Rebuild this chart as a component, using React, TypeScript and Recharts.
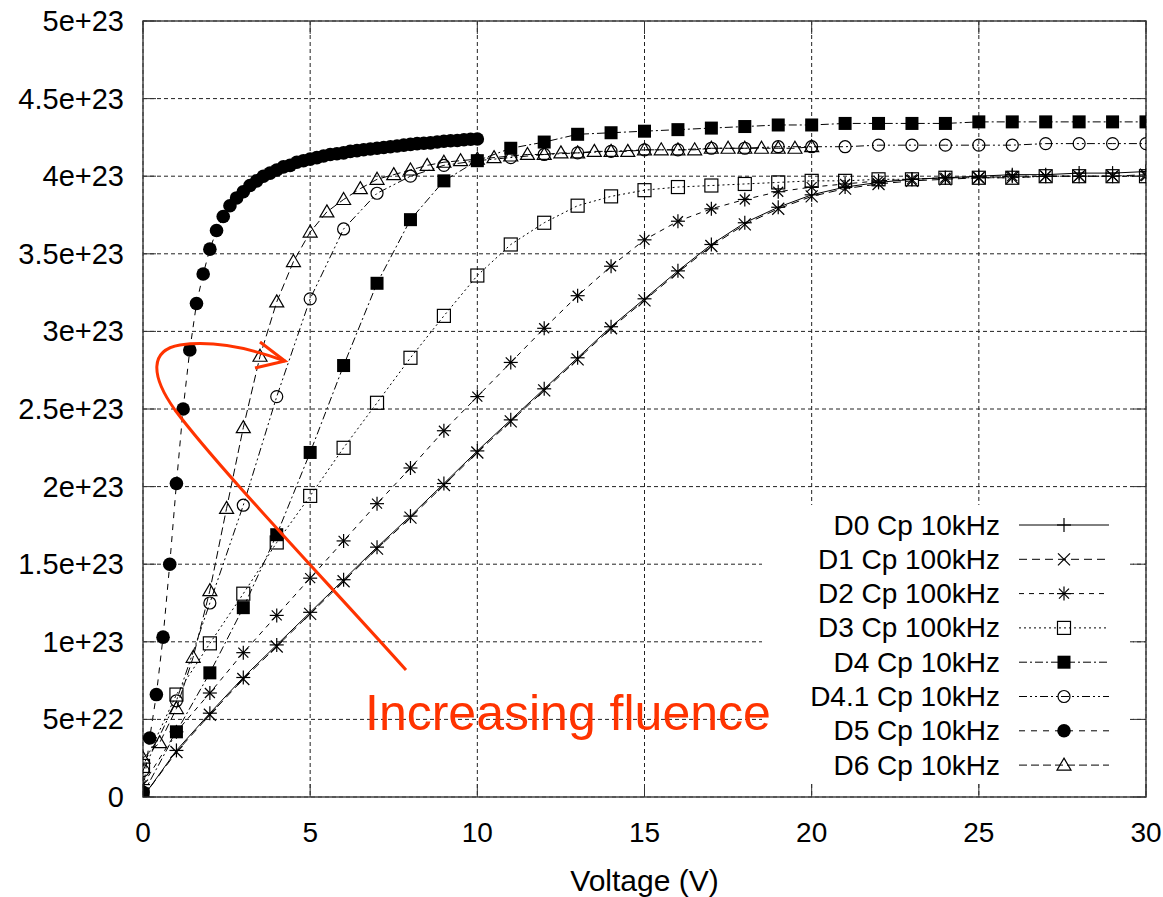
import React from 'react';
import { LineChart, Line, XAxis, YAxis, CartesianGrid, Legend, ReferenceArea, Label } from 'recharts';

// y values are in units of 1e23
const xTicks = [0, 5, 10, 15, 20, 25, 30];
const yTicks = [0, 0.5, 1, 1.5, 2, 2.5, 3, 3.5, 4, 4.5, 5];
const yTickLabels = ['0', '5e+22', '1e+23', '1.5e+23', '2e+23', '2.5e+23', '3e+23', '3.5e+23', '4e+23', '4.5e+23', '5e+23'];

const voltsFull = [0, 1, 2, 3, 4, 5, 6, 7, 8, 9, 10, 11, 12, 13, 14, 15, 16, 17, 18, 19, 20, 21, 22, 23, 24, 25, 26, 27, 28, 29, 30];
const voltsD5 = [0, 0.2, 0.4, 0.6, 0.8, 1, 1.2, 1.4, 1.6, 1.8, 2, 2.2, 2.4, 2.6, 2.8, 3, 3.2, 3.4, 3.6, 3.8, 4, 4.2, 4.4, 4.6, 4.8, 5, 5.2, 5.4, 5.6, 5.8, 6, 6.2, 6.4, 6.6, 6.8, 7, 7.2, 7.4, 7.6, 7.8, 8, 8.2, 8.4, 8.6, 8.8, 9, 9.2, 9.4, 9.6, 9.8, 10];
const voltsD6 = [0, 0.5, 1, 1.5, 2, 2.5, 3, 3.5, 4, 4.5, 5, 5.5, 6, 6.5, 7, 7.5, 8, 8.5, 9, 9.5, 10, 10.5, 11, 11.5, 12, 12.5, 13, 13.5, 14, 14.5, 15, 15.5, 16, 16.5, 17, 17.5, 18, 18.5, 19, 19.5, 20];

const d0 = [0, 0.30, 0.54, 0.77, 0.98, 1.19, 1.40, 1.61, 1.81, 2.02, 2.23, 2.43, 2.63, 2.83, 3.03, 3.21, 3.39, 3.56, 3.70, 3.80, 3.88, 3.93, 3.96, 3.98, 3.99, 4.00, 4.01, 4.01, 4.02, 4.02, 4.03];
const d1 = [0, 0.29, 0.53, 0.76, 0.97, 1.18, 1.39, 1.60, 1.80, 2.01, 2.22, 2.42, 2.62, 2.82, 3.02, 3.20, 3.38, 3.55, 3.69, 3.79, 3.87, 3.92, 3.95, 3.97, 3.98, 3.99, 3.99, 4.00, 4.00, 4.00, 4.01];
const d2 = [0.08, 0.42, 0.67, 0.93, 1.17, 1.41, 1.65, 1.89, 2.12, 2.36, 2.58, 2.80, 3.02, 3.23, 3.42, 3.59, 3.71, 3.79, 3.85, 3.90, 3.93, 3.95, 3.97, 3.98, 3.99, 3.99, 4.00, 4.00, 4.00, 4.00, 4.00];
const d3 = [0.20, 0.66, 0.99, 1.31, 1.64, 1.94, 2.25, 2.54, 2.83, 3.10, 3.36, 3.56, 3.70, 3.81, 3.87, 3.91, 3.93, 3.94, 3.95, 3.96, 3.97, 3.97, 3.98, 3.98, 3.99, 3.99, 3.99, 4.00, 4.00, 4.00, 4.00];
const d4 = [0.02, 0.42, 0.80, 1.22, 1.69, 2.22, 2.78, 3.31, 3.72, 3.97, 4.10, 4.18, 4.22, 4.27, 4.28, 4.29, 4.30, 4.31, 4.32, 4.33, 4.33, 4.34, 4.34, 4.34, 4.34, 4.35, 4.35, 4.35, 4.35, 4.35, 4.35];
const d41 = [0.17, 0.62, 1.25, 1.88, 2.58, 3.21, 3.66, 3.89, 4.00, 4.07, 4.10, 4.12, 4.14, 4.15, 4.16, 4.17, 4.17, 4.18, 4.18, 4.19, 4.19, 4.19, 4.20, 4.20, 4.20, 4.20, 4.20, 4.21, 4.21, 4.21, 4.21];
const d5 = [0.03, 0.38, 0.66, 1.03, 1.50, 2.02, 2.50, 2.88, 3.18, 3.37, 3.53, 3.65, 3.74, 3.81, 3.86, 3.90, 3.94, 3.97, 4.00, 4.02, 4.04, 4.06, 4.07, 4.09, 4.10, 4.11, 4.12, 4.13, 4.14, 4.145, 4.15, 4.16, 4.165, 4.17, 4.175, 4.18, 4.185, 4.19, 4.195, 4.20, 4.205, 4.21, 4.212, 4.215, 4.22, 4.225, 4.228, 4.23, 4.235, 4.238, 4.24];
const d6 = [0.25, 0.35, 0.57, 0.90, 1.33, 1.86, 2.38, 2.84, 3.19, 3.45, 3.64, 3.77, 3.85, 3.92, 3.98, 4.01, 4.04, 4.07, 4.09, 4.10, 4.11, 4.12, 4.13, 4.14, 4.14, 4.15, 4.15, 4.16, 4.16, 4.16, 4.17, 4.17, 4.17, 4.17, 4.18, 4.18, 4.18, 4.18, 4.18, 4.18, 4.19];

type Shape = 'plus' | 'cross' | 'star' | 'box' | 'boxF' | 'circle' | 'circleF' | 'tri';

const series: { name: string; xs: number[]; ys: number[]; shape: Shape; dash?: string }[] = [
  { name: 'D0 Cp 10kHz', xs: voltsFull, ys: d0, shape: 'plus' },
  { name: 'D1 Cp 100kHz', xs: voltsFull, ys: d1, shape: 'cross', dash: '8 5' },
  { name: 'D2 Cp 100kHz', xs: voltsFull, ys: d2, shape: 'star', dash: '5 5' },
  { name: 'D3 Cp 100kHz', xs: voltsFull, ys: d3, shape: 'box', dash: '2 3' },
  { name: 'D4 Cp 10kHz', xs: voltsFull, ys: d4, shape: 'boxF', dash: '8 3 2 3' },
  { name: 'D4.1 Cp 10kHz', xs: voltsFull, ys: d41, shape: 'circle', dash: '8 3 2 3 2 3' },
  { name: 'D5 Cp 10kHz', xs: voltsD5, ys: d5, shape: 'circleF', dash: '6 6' },
  { name: 'D6 Cp 10kHz', xs: voltsD6, ys: d6, shape: 'tri', dash: '8 4' },
];

const W = 1163;
const H = 897;
const PLOT_LEFT = 143;
const PLOT_RIGHT = 1146;
const PLOT_TOP = 21;
const PLOT_BOTTOM = 797;
const TICK_LEN = 13;
const FONT = '"Liberation Sans", Arial, sans-serif';
const RED = '#ff3300';

const Marker = ({ shape, cx, cy }: { shape: Shape; cx: number; cy: number }) => {
  const s = 7;
  const st = { stroke: '#000', strokeWidth: 1.2 };
  switch (shape) {
    case 'plus':
      return <g {...st}><line x1={cx - s} x2={cx + s} y1={cy} y2={cy} /><line x1={cx} x2={cx} y1={cy - s} y2={cy + s} /></g>;
    case 'cross':
      return <g {...st}><line x1={cx - 6} x2={cx + 6} y1={cy - 6} y2={cy + 6} /><line x1={cx - 6} x2={cx + 6} y1={cy + 6} y2={cy - 6} /></g>;
    case 'star':
      return (
        <g {...st}>
          <line x1={cx - s} x2={cx + s} y1={cy} y2={cy} />
          <line x1={cx} x2={cx} y1={cy - s} y2={cy + s} />
          <line x1={cx - 5} x2={cx + 5} y1={cy - 5} y2={cy + 5} />
          <line x1={cx - 5} x2={cx + 5} y1={cy + 5} y2={cy - 5} />
        </g>
      );
    case 'box':
      return <rect x={cx - 6.5} y={cy - 6.5} width={13} height={13} fill="none" {...st} />;
    case 'boxF':
      return <rect x={cx - 6.5} y={cy - 6.5} width={13} height={13} fill="#000" />;
    case 'circle':
      return <circle cx={cx} cy={cy} r={6} fill="none" {...st} />;
    case 'circleF':
      return <circle cx={cx} cy={cy} r={6.8} fill="#000" />;
    case 'tri':
      return <polygon points={`${cx},${cy - 7} ${cx + 7},${cy + 5} ${cx - 7},${cy + 5}`} fill="none" {...st} />;
  }
  return null;
};

const makeDot = (shape: Shape, name: string) => (props: any) => {
  const { cx, cy, index } = props;
  if (cx == null || cy == null) return <g key={`${name}-${index}`} />;
  return <g key={`${name}-${index}`}><Marker shape={shape} cx={cx} cy={cy} /></g>;
};

const XTick = (props: any) => {
  const { x, payload } = props;
  return (
    <g>
      <text x={x} y={832} textAnchor="middle" dominantBaseline="central" fontSize={28} fontFamily={FONT} fill="#000">
        {payload.value}
      </text>
      <line x1={x} x2={x} y1={PLOT_BOTTOM} y2={PLOT_BOTTOM - TICK_LEN} stroke="#333" />
      <line x1={x} x2={x} y1={PLOT_TOP} y2={PLOT_TOP + TICK_LEN} stroke="#333" />
    </g>
  );
};

const YTick = (props: any) => {
  const { y, payload } = props;
  const label = yTickLabels[yTicks.indexOf(payload.value)];
  return (
    <g>
      <text x={PLOT_LEFT - 19} y={y} textAnchor="end" dominantBaseline="central" fontSize={29} fontFamily={FONT} fill="#000">
        {label}
      </text>
      <line x1={PLOT_LEFT} x2={PLOT_LEFT + TICK_LEN} y1={y} y2={y} stroke="#333" />
      <line x1={PLOT_RIGHT - TICK_LEN} x2={PLOT_RIGHT} y1={y} y2={y} stroke="#333" />
    </g>
  );
};

const LegendBox = () => (
  <svg width={368} height={278} style={{ display: 'block' }}>
    {series.map((s, i) => {
      const y = 20 + i * 34.3;
      return (
        <g key={s.name}>
          <text x={238} y={y} textAnchor="end" dominantBaseline="central" fontSize={28} fontFamily={FONT} fill="#000">
            {s.name}
          </text>
          <line x1={257} x2={347} y1={y} y2={y} stroke="#000" strokeWidth={1} strokeDasharray={s.dash} />
          <Marker shape={s.shape} cx={302} cy={y} />
        </g>
      );
    })}
  </svg>
);

export default function App() {
  return (
    <div style={{ position: 'relative', width: W, height: H, background: '#fff', fontFamily: FONT }}>
      <style>{'body { margin: 0; }'}</style>
      <LineChart width={W} height={H} margin={{ top: PLOT_TOP, right: W - PLOT_RIGHT, bottom: 40, left: 0 }}>
        <CartesianGrid stroke="#222" strokeDasharray="4 3" strokeWidth={1} />
        <XAxis
          type="number"
          dataKey="x"
          domain={[0, 30]}
          ticks={xTicks}
          interval={0}
          allowDataOverflow
          tickLine={false}
          axisLine={false}
          height={60}
          tick={<XTick />}
        >
          <Label
            content={() => (
              <text x={(PLOT_LEFT + PLOT_RIGHT) / 2} y={880} textAnchor="middle" dominantBaseline="central" fontSize={30} fontFamily={FONT} fill="#000">
                Voltage (V)
              </text>
            )}
          />
        </XAxis>
        <YAxis
          type="number"
          domain={[0, 5]}
          ticks={yTicks}
          interval={0}
          allowDataOverflow
          tickLine={false}
          axisLine={false}
          width={PLOT_LEFT}
          tick={<YTick />}
        />
        <ReferenceArea x1={0} x2={30} y1={0} y2={5} fill="none" stroke="#444" strokeWidth={1.5} ifOverflow="visible" />
        {series.map((s) => (
          <Line
            key={s.name}
            name={s.name}
            data={s.xs.map((x, i) => ({ x, y: s.ys[i] }))}
            dataKey="y"
            type="linear"
            stroke="#000"
            strokeWidth={1}
            strokeDasharray={s.dash}
            dot={makeDot(s.shape, s.name)}
            activeDot={false}
            isAnimationActive={false}
          />
        ))}
        <Legend
          layout="horizontal"
          verticalAlign="middle"
          align="center"
          wrapperStyle={{ left: 762, top: 505, width: 368, height: 278, background: '#fff' }}
          content={() => <LegendBox />}
        />
      </LineChart>
      <svg width={W} height={H} style={{ position: 'absolute', left: 0, top: 0, pointerEvents: 'none' }}>
        <path
          d="M406,670 C330,585 220,470 175,410 C150,375 150,350 180,345 C215,340 255,350 285,361"
          fill="none"
          stroke={RED}
          strokeWidth={3}
        />
        <path d="M260,342 L285,361 L255,368" fill="none" stroke={RED} strokeWidth={3} />
        <text x={365} y={730} fontSize={50} fontFamily={FONT} fill={RED}>
          Increasing fluence
        </text>
      </svg>
    </div>
  );
}
